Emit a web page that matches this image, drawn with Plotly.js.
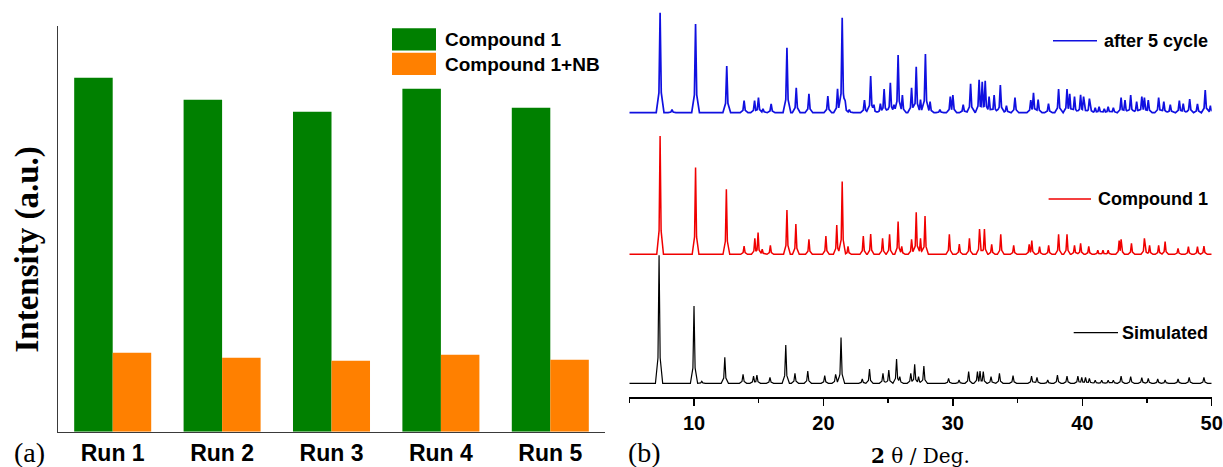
<!DOCTYPE html>
<html>
<head>
<meta charset="utf-8">
<script src="https://cdn.plot.ly/plotly-3.0.1.min.js"></script>
<style>
  html, body { margin: 0; padding: 0; background: #ffffff; }
  #chart { width: 1223px; height: 467px; }
</style>
</head>
<body>
<div id="chart"></div>
<script>
// ---------- Panel (a): bar chart data ----------
const runs = ['Run 1', 'Run 2', 'Run 3', 'Run 4', 'Run 5'];
const compound1 = [354, 332, 320, 343, 324];
const compound1NB = [79, 74, 71, 77, 72];

// ---------- Panel (b): PXRD peak lists (2θ in degrees, relative intensity) ----------
const cyclePos = [7.38, 8.3, 10.12, 12.53, 13.87, 14.68, 14.98, 15.33, 15.96, 17.18, 17.9, 18.88, 20.34, 21.09, 21.45, 21.68, 22.0, 23.17, 23.65, 23.9, 24.4, 24.69, 25.17, 25.45, 25.77, 26.1, 26.81, 27.17, 27.5, 27.88, 28.24, 29.0, 29.8, 30.0, 30.8, 31.37, 32.03, 32.27, 32.5, 32.8, 33.19, 33.67, 34.14, 34.8, 36.02, 36.23, 36.59, 37.39, 38.17, 38.82, 39.03, 39.4, 39.87, 40.1, 40.55, 41.0, 41.3, 41.7, 42.0, 42.4, 43.0, 43.3, 43.74, 44.2, 44.6, 44.8, 45.1, 45.9, 46.3, 46.8, 47.5, 47.8, 48.3, 48.9, 49.5, 49.9];
const cycleInt = [100, 3, 88.7, 46.7, 12, 12, 15, 4, 8.7, 65, 25, 19, 16.7, 24, 95, 12, 3, 12.7, 36.7, 8, 9, 23.7, 30, 8, 57.7, 17.7, 25, 46, 13, 58.7, 11, 3, 16, 17.7, 8, 29, 33, 31, 32, 16, 17.7, 27.7, 7, 15, 12.7, 20, 13, 9, 23.7, 23.7, 19, 16, 18, 16, 14, 5, 6, 4, 6, 5, 15, 12.7, 17.7, 11, 16, 15, 12.7, 15, 11, 8, 12, 9, 13.7, 8.7, 22.7, 7];

const compoundPos = [7.38, 10.12, 12.5, 13.87, 14.7, 14.95, 15.27, 15.9, 17.18, 17.87, 18.88, 20.19, 21.03, 21.45, 21.9, 23.08, 23.65, 24.57, 25.11, 25.77, 26.05, 26.81, 27.17, 27.5, 27.85, 29.73, 30.5, 31.28, 32.06, 32.44, 33.0, 33.7, 34.7, 35.9, 36.1, 36.7, 37.4, 38.17, 38.82, 39.4, 39.87, 40.5, 41.2, 41.6, 42.0, 42.85, 43.0, 43.8, 44.8, 45.2, 45.9, 46.4, 47.4, 48.2, 48.9, 49.4];
const compoundInt = [118.3, 86.7, 65, 8.3, 16, 21.7, 5, 9, 44.3, 30.3, 15, 18.3, 29.3, 72.7, 8, 18.3, 20.3, 16, 20, 32.7, 8, 15, 42, 16, 38.3, 20, 10.3, 16, 25.3, 25.3, 10, 20, 9, 10, 13.7, 7.7, 9, 20, 20, 9, 11, 8, 4, 4, 4, 13.7, 15, 11, 16, 9, 9, 12.7, 6, 7.7, 7.7, 8.3];

const simPos = [7.3, 10.0, 10.6, 12.38, 13.79, 14.6, 14.86, 15.87, 17.09, 17.8, 18.79, 20.1, 20.94, 21.36, 23.0, 23.56, 24.6, 25.05, 25.65, 25.9, 26.75, 27.05, 27.35, 27.76, 29.67, 30.48, 31.22, 31.9, 32.1, 32.35, 32.95, 33.6, 34.65, 36.08, 36.5, 37.33, 38.08, 38.82, 39.66, 39.96, 40.25, 40.55, 41.0, 41.5, 42.0, 42.4, 43.0, 43.74, 44.6, 45.1, 45.83, 46.4, 47.4, 48.26, 49.4];
const simInt = [128, 77.3, 2, 26, 9, 7.3, 8.3, 6, 38.3, 10, 12.3, 7.7, 9, 45.7, 4.3, 14.3, 10, 13.3, 24.3, 6.7, 10, 19, 6.7, 17.3, 5, 3.3, 11.7, 11.7, 12.3, 11.7, 6.7, 10, 7.7, 7.3, 6, 3.3, 8.3, 7.3, 7.3, 6, 6, 5, 3, 3, 3, 3, 7.3, 6.7, 5.7, 5, 4.3, 3.3, 4.3, 6, 6];

const xrdLabels = ['after 5 cycle', 'Compound 1', 'Simulated'];

// vertical stacking offsets of the patterns (display only)
const OFFSET_CYCLE = 284.6, OFFSET_COMPOUND = 143, OFFSET_SIM = 14;

// Build a line profile from a peak list: each peak drawn as a sharp spike
function profile(pos, inten, offset, w) {
  const keys = [5, 50];
  pos.forEach(p => { keys.push(p, p - w, p + w, p - 0.3 * w, p + 0.3 * w); });
  const xs = Array.from(new Set(keys.map(v => +v.toFixed(4)))).filter(v => v >= 5 && v <= 50).sort((a, b) => a - b);
  const ys = xs.map(x => {
    let m = 0;
    for (let i = 0; i < pos.length; i++) {
      const d = Math.abs(x - pos[i]);
      let v = 0;
      if (d <= 0.3 * w) v = inten[i] * (1 - 0.8 * d / (0.3 * w));
      else if (d < w) v = inten[i] * 0.2 * (w - d) / (0.7 * w);
      if (v > m) m = v;
    }
    return offset + m;
  });
  return { x: xs, y: ys };
}

const pCycle = profile(cyclePos, cycleInt, OFFSET_CYCLE, 0.3);
const pComp = profile(compoundPos, compoundInt, OFFSET_COMPOUND, 0.26);
const pSim = profile(simPos, simInt, OFFSET_SIM, 0.28);

const W = 1223, H = 467;
const px = v => v / W;
const py = v => (H - v) / H;

const data = [
  { type: 'bar', x: runs, y: compound1, name: 'Compound 1', marker: { color: '#008000' }, xaxis: 'x', yaxis: 'y', showlegend: false },
  { type: 'bar', x: runs, y: compound1NB, name: 'Compound 1+NB', marker: { color: '#ff8000' }, xaxis: 'x', yaxis: 'y', showlegend: false },
  { type: 'scatter', mode: 'lines', x: pCycle.x, y: pCycle.y, name: xrdLabels[0], line: { color: '#1010e0', width: 1.7 }, xaxis: 'x2', yaxis: 'y2', showlegend: false },
  { type: 'scatter', mode: 'lines', x: pComp.x, y: pComp.y, name: xrdLabels[1], line: { color: '#f00000', width: 1.5 }, xaxis: 'x2', yaxis: 'y2', showlegend: false },
  { type: 'scatter', mode: 'lines', x: pSim.x, y: pSim.y, name: xrdLabels[2], line: { color: '#000000', width: 1.2 }, xaxis: 'x2', yaxis: 'y2', showlegend: false }
];

const boldSans = { family: 'Liberation Sans, Arial, sans-serif', color: '#000', weight: 'bold' };

const layout = {
  width: W, height: H,
  margin: { l: 0, r: 0, t: 0, b: 0 },
  paper_bgcolor: '#ffffff', plot_bgcolor: '#ffffff',
  barmode: 'group', bargap: 0.296, bargroupgap: 0,
  showlegend: false,
  xaxis: {
    domain: [px(58), px(605)], anchor: 'y', type: 'category', range: [-0.5, 4.5],
    showline: true, linecolor: '#3a3a3a', linewidth: 1.5, ticks: '', showgrid: false, zeroline: false,
    tickfont: Object.assign({ size: 23 }, boldSans), ticklabelstandoff: 0
  },
  yaxis: {
    domain: [py(431.7), py(26)], anchor: 'x', range: [0, 405.7],
    showline: true, linecolor: '#3a3a3a', linewidth: 1.5, ticks: '', showticklabels: false, showgrid: false, zeroline: false
  },
  xaxis2: {
    domain: [px(629.3), px(1211.7)], anchor: 'y2', range: [5, 50],
    showline: true, linecolor: '#000', linewidth: 1.5, showgrid: false, zeroline: false,
    ticks: 'outside', ticklen: 7, tickwidth: 1.5, tickcolor: '#000', tick0: 0, dtick: 10,
    minor: { ticks: 'outside', ticklen: 4, tickwidth: 1.5, tickcolor: '#000', dtick: 5, tick0: 0, showgrid: false },
    tickfont: Object.assign({ size: 20 }, boldSans)
  },
  yaxis2: {
    domain: [py(397.3), py(5)], anchor: 'x2', range: [0, 392.3], visible: false
  },
  shapes: [
    { type: 'rect', xref: 'paper', yref: 'paper', x0: px(392), x1: px(436), y0: py(50.5), y1: py(28.3), fillcolor: '#008000', line: { width: 0 } },
    { type: 'rect', xref: 'paper', yref: 'paper', x0: px(392), x1: px(436), y0: py(75), y1: py(52.7), fillcolor: '#ff8000', line: { width: 0 } },
    { type: 'line', xref: 'paper', yref: 'paper', x0: px(1053), x1: px(1097), y0: py(40.7), y1: py(40.7), line: { color: '#1010e0', width: 1.6 } },
    { type: 'line', xref: 'paper', yref: 'paper', x0: px(1048.6), x1: px(1091), y0: py(199), y1: py(199), line: { color: '#f00000', width: 1.5 } },
    { type: 'line', xref: 'paper', yref: 'paper', x0: px(1073.7), x1: px(1118), y0: py(332.7), y1: py(332.7), line: { color: '#000', width: 1.2 } }
  ],
  annotations: [
    { xref: 'paper', yref: 'paper', x: px(443), y: py(39.5), xanchor: 'left', yanchor: 'middle', showarrow: false, text: 'Compound 1', font: Object.assign({ size: 19 }, boldSans) },
    { xref: 'paper', yref: 'paper', x: px(443), y: py(64), xanchor: 'left', yanchor: 'middle', showarrow: false, text: 'Compound 1+NB', font: Object.assign({ size: 19 }, boldSans) },
    { xref: 'paper', yref: 'paper', x: px(27), y: py(249.5), xanchor: 'center', yanchor: 'middle', showarrow: false, textangle: -90, text: 'Intensity (a.u.)', font: { family: 'Liberation Serif, Times New Roman, serif', size: 33, color: '#000', weight: 'bold' } },
    { xref: 'paper', yref: 'paper', x: px(29.5), y: py(452), xanchor: 'center', yanchor: 'middle', showarrow: false, text: '(a)', font: { family: 'Liberation Serif, Times New Roman, serif', size: 28, color: '#000' } },
    { xref: 'paper', yref: 'paper', x: px(644), y: py(452), xanchor: 'center', yanchor: 'middle', showarrow: false, text: '(b)', font: { family: 'Liberation Serif, Times New Roman, serif', size: 28, color: '#000' } },
    { xref: 'paper', yref: 'paper', x: px(920), y: py(456), xanchor: 'center', yanchor: 'middle', showarrow: false, text: '<b>2</b> θ / Deg.', font: { family: 'DejaVu Serif, Liberation Serif, serif', size: 20, color: '#000' } },
    { xref: 'paper', yref: 'paper', x: px(1210), y: py(40.7), xanchor: 'right', yanchor: 'middle', showarrow: false, text: xrdLabels[0], font: Object.assign({ size: 18 }, boldSans) },
    { xref: 'paper', yref: 'paper', x: px(1210), y: py(199), xanchor: 'right', yanchor: 'middle', showarrow: false, text: xrdLabels[1], font: Object.assign({ size: 18 }, boldSans) },
    { xref: 'paper', yref: 'paper', x: px(1210), y: py(332.7), xanchor: 'right', yanchor: 'middle', showarrow: false, text: xrdLabels[2], font: Object.assign({ size: 18 }, boldSans) }
  ]
};

Plotly.newPlot('chart', data, layout, { staticPlot: true, displayModeBar: false });
</script>
</body>
</html>
